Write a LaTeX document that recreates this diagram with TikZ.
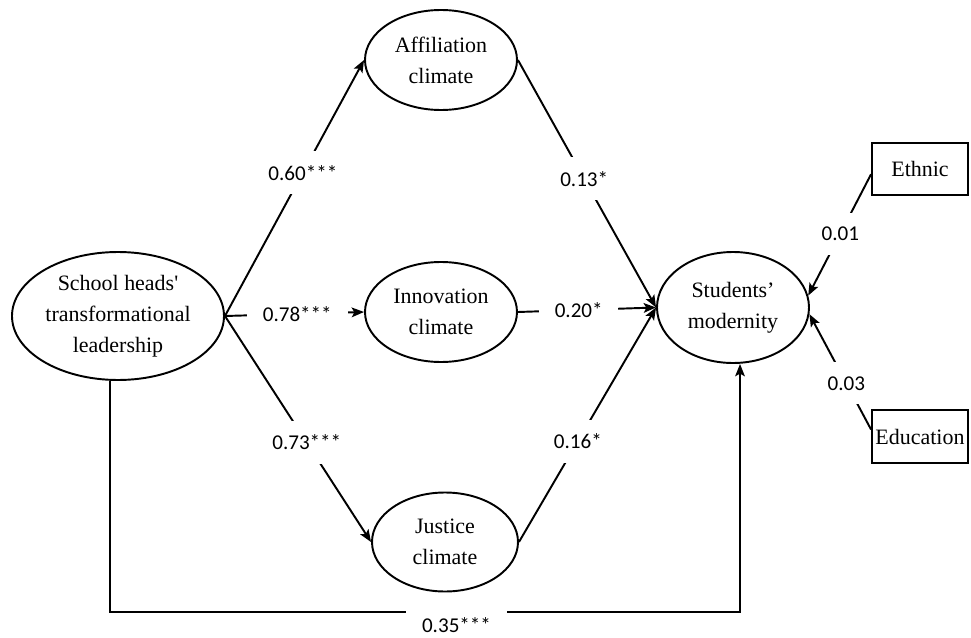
\documentclass[tikz,border=0pt]{standalone}
\usepackage{fontspec}
\setmainfont{Liberation Serif}
\newfontfamily\numfont{Carlito}
\usetikzlibrary{arrows.meta, positioning, shapes.geometric}
\tikzset{
  latent/.style={ellipse, draw, line width=1.1pt, inner sep=0pt, align=center,
                 minimum width=3.04cm, minimum height=2cm,
                 font=\fontsize{12.5}{17.5}\selectfont},
  observed/.style={rectangle, draw, line width=1.1pt, inner sep=1pt,
                   minimum width=1.92cm, minimum height=1.04cm,
                   font=\fontsize{12.5}{15}\selectfont},
  path/.style={-{Stealth[length=7pt, width=5.5pt, inset=1.5pt]}, line width=1.1pt},
  coef/.style={fill=white, inner xsep=9pt, inner ysep=8pt,
               font=\numfont\fontsize{12}{14}\selectfont},
}

\begin{document}
\begin{tikzpicture}
  \useasboundingbox (0,0) rectangle (19.42,-12.76);

  % latent variables
  \node[latent, minimum width=4.24cm, minimum height=2.56cm] (school) at (2.36,-6.32)
       {School heads\textquotesingle\\transformational\\leadership};
  \node[latent] (affil) at (8.82,-1.20) {Affiliation\\climate};
  \node[latent] (innov) at (8.82,-6.24) {Innovation\\climate};
  \node[latent, minimum width=2.92cm, minimum height=1.98cm] (justice) at (8.90,-10.84)
       {Justice\\climate};
  \node[latent, minimum height=2.22cm] (students) at (14.66,-6.15)
       {Students’\\modernity};

  % controls
  \node[observed] (ethnic) at (18.40,-3.38) {Ethnic};
  \node[observed, minimum height=1.06cm] (educ) at (18.40,-8.73) {Education};

  % corners of the direct path
  \coordinate (bl) at (2.20,-12.24);
  \coordinate (br) at (14.80,-12.24);

  % paths
  \draw[path] (school.east) -- node[coef, pos=0.56] {0.60***} (affil.west);
  \draw[path] (school.east) -- node[coef, pos=0.52] {0.78***} (innov.west);
  \draw[path] (school.east) -- node[coef, pos=0.56] {0.73***} (justice.west);
  \draw[path] (affil.east) -- node[coef, pos=0.48] {0.13*} (students.west);
  \draw[path] (innov.east) -- node[coef, pos=0.44] {0.20*} (students.west);
  \draw[path] (justice.east) -- node[coef, pos=0.43] {0.16*} (students.west);
  \draw[path] ([yshift=-3pt]ethnic.west) -- node[coef, pos=0.49] {0.01} (students.9);
  \draw[path] ([yshift=4pt]educ.west) -- node[coef, pos=0.40] {0.03} (students.-5);
  \draw[path] (bl |- school.south) -- (bl)
       -- node[coef, pos=0.55, yshift=-0.26cm] {0.35***} (br)
       -- (br |- students.south);
\end{tikzpicture}
\end{document}
